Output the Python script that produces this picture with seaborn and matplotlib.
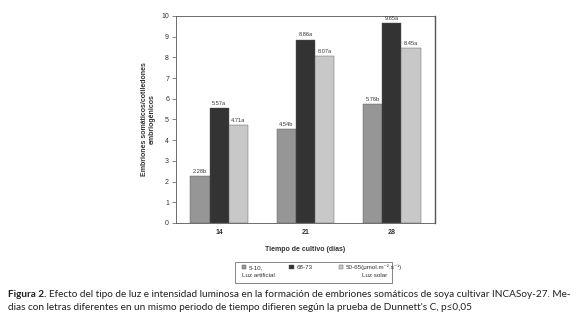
import numpy as np
import pandas as pd
import seaborn as sns
import matplotlib.pyplot as plt
from matplotlib.patches import Rectangle, Patch

# data
days = ["14", "21", "28"]
treatments = ["5-10,", "68-73", "50-65(µmol.m⁻².s⁻¹)"]
luz_5_10 = [2.28, 4.54, 5.76]
luz_68_73 = [5.57, 8.86, 9.65]
luz_solar = [4.71, 8.07, 8.45]
letters_5_10 = ["b", "b", "b"]
letters_68_73 = ["a", "a", "a"]
letters_solar = ["a", "a", "a"]
yticks = list(range(0, 11))

colors = ["#969696", "#333333", "#c8c8c8"]

df = pd.DataFrame({
    "dia": days * 3,
    "trat": [treatments[0]] * 3 + [treatments[1]] * 3 + [treatments[2]] * 3,
    "valor": luz_5_10 + luz_68_73 + luz_solar,
})

sns.set_style("white")
plt.rcParams["font.family"] = ["Liberation Sans", "DejaVu Sans"]

fig = plt.figure(figsize=(5.79, 3.25), dpi=100)
ax = fig.add_axes([0.304, 0.314, 0.447, 0.637])
sns.barplot(data=df, x="dia", y="valor", hue="trat", hue_order=treatments,
            palette=colors, width=0.67, saturation=1, edgecolor="#555555",
            linewidth=0.3, legend=False, ax=ax)

all_vals = [luz_5_10, luz_68_73, luz_solar]
all_lets = [letters_5_10, letters_68_73, letters_solar]
for cont, vals, lets in zip(ax.containers, all_vals, all_lets):
    ax.bar_label(cont, labels=[f"{v:.2f}{l}" for v, l in zip(vals, lets)],
                 padding=1.5, fontsize=4.1, color="#333333")

ax.set_ylim(0, 10)
ax.set_xlim(-0.5, 2.5)
ax.set_yticks(yticks)
ax.set_yticklabels([str(t) for t in yticks], fontsize=5, color="#333333")
ax.set_xticklabels(days, fontsize=5, fontweight="bold", color="#333333")
# x ticks sit at the group boundaries
ax.set_xticks([0.5, 1.5, 2.5], minor=True)
ax.tick_params(axis="x", which="major", length=0, pad=4)
ax.tick_params(axis="x", which="minor", length=3, width=0.5, color="#555555")
ax.tick_params(axis="y", length=3, width=0.5, color="#555555", pad=2, left=True)
for s in ax.spines.values():
    s.set_linewidth(0.6)
    s.set_color("#555555")
ax.spines["right"].set_linewidth(1.0)

ax.set_xlabel("Tiempo de cultivo (días)", fontsize=5, fontweight="bold",
              color="#333333", labelpad=7.5)
ax.set_ylabel("Embriones somáticos/cotiledones\nembriogénicos", fontsize=5,
              fontweight="bold", color="#333333", labelpad=4, linespacing=1.1)

# legend box
fig.patches.append(Rectangle((0.406, 0.129), 0.271, 0.065, transform=fig.transFigure,
                             fill=False, edgecolor="#555555", linewidth=0.5))
handles = [Patch(facecolor=c, edgecolor="#555555", linewidth=0.3) for c in colors]
fig.legend(handles, treatments, ncol=3, loc="center left",
           bbox_to_anchor=(0.408, 0.178), frameon=False, fontsize=4.5,
           handlelength=0.7, handleheight=0.7, handletextpad=0.4,
           columnspacing=4.2, labelcolor="#333333")
fig.text(0.418, 0.152, "Luz artificial", fontsize=4.5, color="#333333", va="center")
fig.text(0.625, 0.152, "Luz solar", fontsize=4.5, color="#333333", va="center")

# caption
cap_font = ["Lato", "DejaVu Sans"]
cc = "#231f20"
cap_size = 7.2
t1 = fig.text(0.014, 0.086, "Figura 2.", fontsize=cap_size, fontweight="bold",
              family=cap_font, color=cc, va="baseline")
fig.canvas.draw()
bb = t1.get_window_extent(fig.canvas.get_renderer())
x_next = bb.x1 / fig.bbox.width + 0.004
fig.text(x_next, 0.086,
         "Efecto del tipo de luz e intensidad luminosa en la formación de embriones "
         "somáticos de soya cultivar INCASoy-27. Me-",
         fontsize=cap_size, family=cap_font, color=cc, va="baseline")
fig.text(0.014, 0.046,
         "dias con letras diferentes en un mismo periodo de tiempo difieren según "
         "la prueba de Dunnett's C, p≤0,05",
         fontsize=cap_size, family=cap_font, color=cc, va="baseline")

fig.savefig("out.png", dpi=100)
